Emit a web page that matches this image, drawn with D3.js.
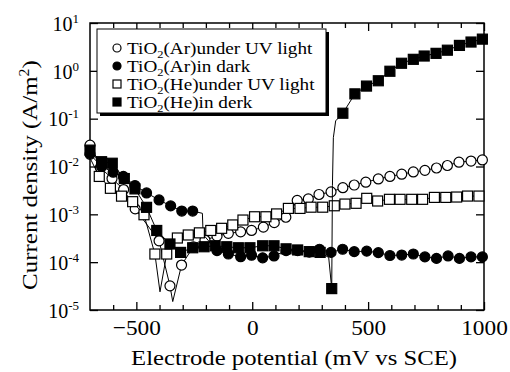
<!DOCTYPE html>
<html>
<head>
<meta charset="utf-8">
<script src="https://cdn.jsdelivr.net/npm/d3@7"></script>
<style>
body { margin: 0; background: #fff; }
text { font-family: "Liberation Serif", "Times New Roman", serif; fill: #000; }
</style>
</head>
<body>
<svg width="510" height="372"></svg>
<script>
// Data: [potential mV, current density A/m2]
const arUv = [[-700,0.028],[-655,0.0095],[-605,0.0056],[-555,0.0033],[-505,0.0013],[-402,0.00028],
  [-355,3.2e-5],[-305,8.7e-5],[-254,2.1e-4],[-204,2.9e-4],[-152,3.5e-4],[-103,4.0e-4],[-50,4.3e-4],
  [-3,4.6e-4],[48,5.4e-4],[95,6.7e-4],[145,8.7e-4],[194,1.95e-3],[242,2.1e-3],[288,2.6e-3],
  [340,2.95e-3],[391,3.6e-3],[440,4.1e-3],[490,4.7e-3],[544,5.5e-3],[594,6.2e-3],[645,6.9e-3],
  [695,7.7e-3],[745,8.3e-3],[795,9.3e-3],[842,1.05e-2],[892,1.23e-2],[944,1.3e-2],[993,1.37e-2]];
const arUvLine = [[-343,1.5e-5]];

const arDark = [[-700,0.018],[-650,0.010],[-600,0.0076],[-556,0.0062],[-506,0.0040],[-456,0.0028],
  [-402,0.0020],[-352,0.0015],[-304,0.00117],[-257,0.00117],[-152,1.74e-4],[-103,1.48e-4],
  [-50,1.3e-4],[-3,1.4e-4],[45,1.23e-4],[94,1.35e-4],[146,1.74e-4],[196,1.74e-4],[246,1.62e-4],
  [290,1.86e-4],[340,1.6e-4],[390,1.86e-4],[440,1.66e-4],[494,1.7e-4],[544,1.58e-4],[594,1.38e-4],
  [645,1.41e-4],[695,1.48e-4],[745,1.29e-4],[795,1.2e-4],[845,1.35e-4],[894,1.2e-4],[944,1.29e-4],
  [993,1.29e-4]];
const arDarkLine = [[-215,1.05e-3],[-212,3.8e-4]];

const heUv = [[-660,0.0062],[-612,0.0035],[-564,0.0024],[-516,0.00184],[-467,0.00098],[-420,1.48e-4],
  [-369,1.48e-4],[-323,3.2e-4],[-276,3.7e-4],[-228,4.1e-4],[-179,4.6e-4],[-132,5.1e-4],[-84,6.0e-4],
  [-40,7.6e-4],[10,8.9e-4],[59,8.9e-4],[105,1.02e-3],[156,1.33e-3],[206,1.33e-3],[254,1.41e-3],
  [304,1.41e-3],[354,1.51e-3],[400,1.64e-3],[448,1.7e-3],[494,2.16e-3],[541,1.9e-3],[592,2.06e-3],
  [638,2.06e-3],[688,2.06e-3],[735,2.06e-3],[786,2.26e-3],[835,2.26e-3],[882,2.3e-3],[929,2.41e-3],
  [978,2.41e-3]];
const heUvLine = [[-700,0.015],[-398,2.4e-5]];

const heDark = [[-700,0.022],[-650,0.0126],[-604,0.0117],[-552,0.0056],[-506,0.0034],[-456,0.0014],
  [-412,4.6e-4],[-355,2.4e-4],[-309,1.6e-4],[-257,2.0e-4],[-208,2.1e-4],[-160,2.2e-4],[-110,2.1e-4],
  [-60,2.0e-4],[-10,2.0e-4],[45,2.2e-4],[94,2.2e-4],[146,1.9e-4],[196,1.8e-4],[246,1.66e-4],
  [293,1.6e-4],[343,2.8e-5],[391,0.13],[443,0.33],[493,0.48],[544,0.62],[594,0.98],[644,1.44],
  [695,1.74],[742,2.04],[793,2.32],[842,2.7],[894,3.4],[944,4.0],[993,4.6]];
const heDarkLine = [[330,1.25e-4],[346,4e-3],[350,0.04],[360,0.09]];

const xMajor = [-500, 0, 500, 1000];
const xMinor = [-600, -400, -300, -200, -100, 100, 200, 300, 400, 600, 700, 800, 900];
const yTicks = [-5, -4, -3, -2, -1, 0, 1];

const legendLabels = [
  {pre: "TiO", sub: "2", post: "(Ar)under UV light", shape: "circle", fill: "#fff"},
  {pre: "TiO", sub: "2", post: "(Ar)in dark", shape: "circle", fill: "#000"},
  {pre: "TiO", sub: "2", post: "(He)under UV light", shape: "square", fill: "#fff"},
  {pre: "TiO", sub: "2", post: "(He)in derk", shape: "square", fill: "#000"}
];

const series = [
  {pts: arUv, extra: arUvLine, shape: "circle", fill: "#fff"},
  {pts: arDark, extra: arDarkLine, shape: "circle", fill: "#000"},
  {pts: heUv, extra: heUvLine, shape: "square", fill: "#fff"},
  {pts: heDark, extra: heDarkLine, shape: "square", fill: "#000"}
];

const frame = {left: 90, right: 484, top: 23, bottom: 310};

const svg = d3.select("svg");

const x = d3.scaleLinear().domain([-700, 1000]).range([frame.left, frame.right]);
const y = d3.scaleLog().domain([1e-5, 10]).range([frame.bottom, frame.top]);

// axes (ticks point inward)
svg.append("g")
    .attr("transform", `translate(0,${frame.bottom})`)
    .call(d3.axisBottom(x).tickValues(xMajor).tickSize(-8).tickFormat(d3.format("d")))
    .call(g => g.select(".domain").remove())
    .call(g => g.selectAll("text").attr("font-size", 22).attr("font-family", null)
        .attr("y", null).attr("dy", null).attr("transform", "translate(0,25) scale(1.06,1)"));
svg.append("g")
    .attr("transform", `translate(0,${frame.bottom})`)
    .call(d3.axisBottom(x).tickValues(xMinor).tickSize(-5).tickFormat(""))
    .call(g => g.select(".domain").remove());
svg.append("g")
    .attr("transform", `translate(0,${frame.top})`)
    .call(d3.axisTop(x).tickValues(xMajor).tickSize(-8).tickFormat(""))
    .call(g => g.select(".domain").remove());
svg.append("g")
    .attr("transform", `translate(0,${frame.top})`)
    .call(d3.axisTop(x).tickValues(xMinor).tickSize(-5).tickFormat(""))
    .call(g => g.select(".domain").remove());

const yAxis = svg.append("g")
    .attr("transform", `translate(${frame.left},0)`)
    .call(d3.axisLeft(y).tickValues(yTicks.map(e => Math.pow(10, e))).tickSize(-8).tickFormat(""))
    .call(g => g.select(".domain").remove());
svg.append("g")
    .attr("transform", `translate(${frame.right},0)`)
    .call(d3.axisRight(y).tickValues(yTicks.map(e => Math.pow(10, e))).tickSize(-8).tickFormat(""))
    .call(g => g.select(".domain").remove());

svg.selectAll(".tick line").attr("stroke", "#000").attr("stroke-width", 1.3);

yAxis.selectAll(".tick text")
    .attr("font-size", 20)
    .attr("font-family", null)
    .attr("x", -11)
    .attr("dy", "0.36em")
    .each(function(d) {
        const t = d3.select(this);
        t.append("tspan").text("10");
        t.append("tspan").attr("dy", -8).attr("font-size", 13).text(Math.round(Math.log10(d)));
    });

// frame
svg.append("rect")
    .attr("x", frame.left).attr("y", frame.top)
    .attr("width", frame.right - frame.left).attr("height", frame.bottom - frame.top)
    .attr("fill", "none").attr("stroke", "#000").attr("stroke-width", 1.5);

// series lines and markers
const line = d3.line().x(d => x(d[0])).y(d => y(d[1]));

function marker(g, shape, fill, cx, cy) {
    if (shape === "circle") {
        g.append("circle").attr("cx", cx).attr("cy", cy).attr("r", 5)
            .attr("fill", fill).attr("stroke", "#000").attr("stroke-width", 1.2);
    } else {
        g.append("rect").attr("x", cx - 5).attr("y", cy - 5).attr("width", 10).attr("height", 10)
            .attr("fill", fill).attr("stroke", "#000").attr("stroke-width", 1.2);
    }
}

series.forEach(s => {
    const all = s.pts.concat(s.extra).sort((a, b) => a[0] - b[0]);
    svg.append("path")
        .datum(all)
        .attr("fill", "none")
        .attr("stroke", "#000")
        .attr("stroke-width", 1)
        .attr("d", line);
    const g = svg.append("g");
    s.pts.forEach(d => marker(g, s.shape, s.fill, x(d[0]), y(d[1])));
});

// legend box with shadow
svg.append("rect").attr("x", 100).attr("y", 32).attr("width", 229).attr("height", 84).attr("fill", "#000");
svg.append("rect").attr("x", 97).attr("y", 29).attr("width", 229).attr("height", 84)
    .attr("fill", "#fff").attr("stroke", "#000").attr("stroke-width", 1);

legendLabels.forEach((d, i) => {
    const cy = 48 + i * 18;
    const g = svg.append("g");
    if (d.shape === "circle") {
        g.append("circle").attr("cx", 117).attr("cy", cy).attr("r", 4)
            .attr("fill", d.fill).attr("stroke", "#000").attr("stroke-width", 1.2);
    } else {
        g.append("rect").attr("x", 113).attr("y", cy - 4).attr("width", 8).attr("height", 8)
            .attr("fill", d.fill).attr("stroke", "#000").attr("stroke-width", 1.2);
    }
    const t = g.append("text")
        .attr("transform", `translate(127,${cy + 5.5}) scale(1.13,1)`)
        .attr("font-size", 17);
    t.append("tspan").text(d.pre);
    t.append("tspan").attr("dy", 4).attr("font-size", 11).text(d.sub);
    t.append("tspan").attr("dy", -4).text(d.post);
});

// axis titles, stretched to the widths seen in the picture
const xl = svg.append("text")
    .attr("text-anchor", "middle")
    .attr("font-size", 22)
    .text("Electrode potential (mV vs SCE)");
const xw = xl.node().getComputedTextLength();
xl.attr("transform", `translate(294,365) scale(${326 / xw},1)`);

const yl = svg.append("text")
    .attr("text-anchor", "middle")
    .attr("font-size", 22);
yl.append("tspan").text("Current density (A/m");
yl.append("tspan").attr("dy", -8).attr("font-size", 14).text("2");
yl.append("tspan").attr("dy", 8).text(")");
const yw = yl.node().getComputedTextLength();
yl.attr("transform", `translate(37,175) rotate(-90) scale(${230 / yw},1)`);
</script>
</body>
</html>
